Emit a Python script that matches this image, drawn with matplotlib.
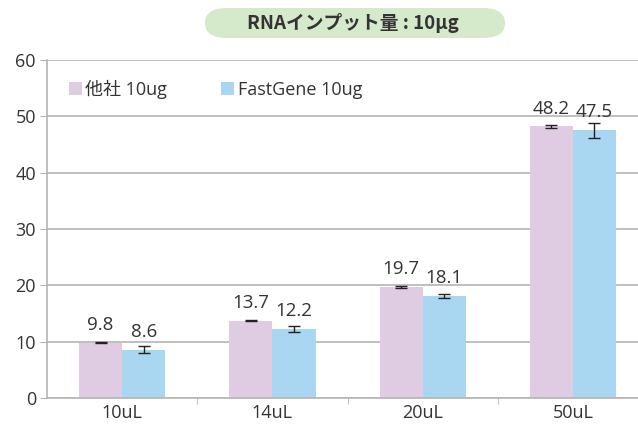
import numpy as np
import matplotlib.pyplot as plt
from matplotlib.patches import FancyBboxPatch

latin = ['Open Sans', 'Noto Sans CJK JP']
cjk = ['Noto Sans CJK JP', 'DejaVu Sans']
plt.rcParams['font.family'] = latin

categories = ['10uL', '14uL', '20uL', '50uL']
other_vals = [9.8, 13.7, 19.7, 48.2]
other_err = [0.1, 0.1, 0.15, 0.35]
fast_vals = [8.6, 12.2, 18.1, 47.5]
fast_err = [0.7, 0.5, 0.35, 1.3]
series_names = ['他社 10ug', 'FastGene 10ug']
title = 'RNAインプット量 : 10μg'

pink = '#dfcce3'
blue = '#a9d6f1'
grid = '#b4b4b4'
text = '#333333'

fig = plt.figure(figsize=(6.38, 4.25), dpi=100)
ax = fig.add_axes([47/638, 27/425, 1 - 47/638, 338/425])

x = np.arange(len(categories))
w = 0.287
ax.bar(x - w/2, other_vals, w, color=pink, label=series_names[0], zorder=2)
ax.bar(x + w/2, fast_vals, w, color=blue, label=series_names[1], zorder=2)
ax.errorbar(x - w/2, other_vals, yerr=other_err, fmt='none', ecolor='#222222',
            elinewidth=1, capsize=4, capthick=1, zorder=3)
ax.errorbar(x + w/2, fast_vals, yerr=fast_err, fmt='none', ecolor='#222222',
            elinewidth=1, capsize=4, capthick=1, zorder=3)

for xi, v in zip(x - w/2, other_vals):
    ax.text(xi, v + 2.3, f'{v}', ha='center', va='baseline', fontsize=13.5, color=text)
for xi, v in zip(x + w/2, fast_vals):
    ax.text(xi, v + 2.3, f'{v}', ha='center', va='baseline', fontsize=13.5, color=text)

ax.set_ylim(0, 60)
ax.set_yticks(range(0, 61, 10))
ax.set_xlim(-0.5, 3.5 - 10/150)
ax.set_xticks(x)
ax.set_xticklabels(categories)
ax.set_xticks(np.arange(0.5, 3, 1), minor=True)
ax.tick_params(axis='x', which='major', length=0, pad=4, labelsize=13, labelcolor=text)
ax.tick_params(axis='x', which='minor', length=4, color=grid, direction='out')
ax.tick_params(axis='y', length=5, color=grid, labelsize=13, labelcolor=text, pad=3)
ax.yaxis.grid(True, color=grid, linewidth=1.2, zorder=0)
ax.set_axisbelow(True)
for s in ['top', 'right']:
    ax.spines[s].set_visible(False)
ax.spines['left'].set_color(grid)
ax.spines['bottom'].set_color(grid)
ax.spines['left'].set_linewidth(1.2)
ax.spines['bottom'].set_linewidth(1.2)

leg = ax.legend(loc='upper left', bbox_to_anchor=(0.01, 0.99), ncol=2, frameon=False,
                fontsize=13, handlelength=0.7, handleheight=0.7, handletextpad=0.2,
                columnspacing=3.0)
for t in leg.get_texts():
    t.set_color(text)

box = FancyBboxPatch((205/638, 1 - 38/425), 300/638, 30/425,
                     boxstyle='round,pad=0,rounding_size=0.035',
                     transform=fig.transFigure, facecolor='#d5e9cb', edgecolor='none')
fig.patches.append(box)
fig.text(353/638, 1 - 23/425, title, ha='center', va='center', fontsize=13.5,
         fontweight='bold', color=text, family=cjk)

fig.savefig('out.png', dpi=100)
